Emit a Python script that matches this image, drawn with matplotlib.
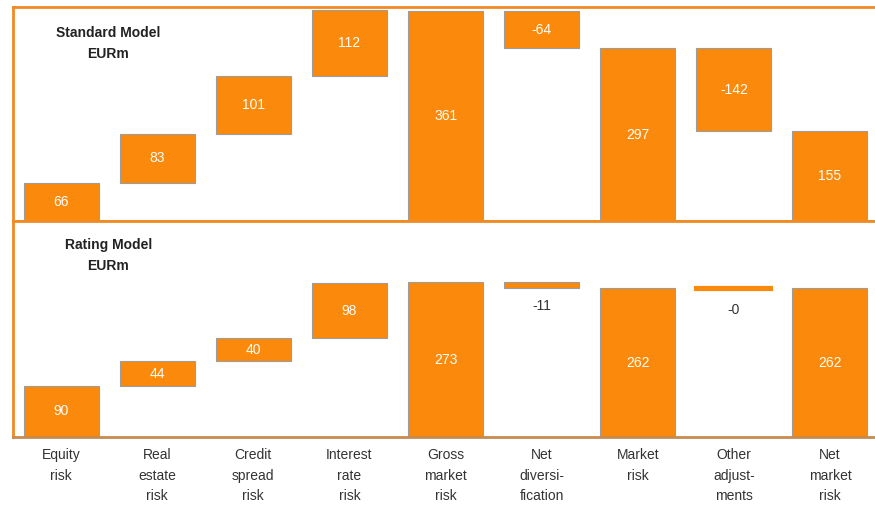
import numpy as np
import matplotlib.pyplot as plt

plt.rcParams['font.family'] = ['Liberation Sans', 'DejaVu Sans']

categories = ['Equity\nrisk', 'Real\nestate\nrisk', 'Credit\nspread\nrisk', 'Interest\nrate\nrisk',
              'Gross\nmarket\nrisk', 'Net\ndiversi-\nfication', 'Market\nrisk', 'Other\nadjust-\nments',
              'Net\nmarket\nrisk']
# True = total bar starting at zero, False = step from previous level
is_total = [False, False, False, False, True, False, True, False, True]

standard_vals = [66, 83, 101, 112, 361, -64, 297, -142, 155]
rating_vals = [90, 44, 40, 98, 273, -11, 262, -0.4, 262]

orange = '#FB8A0C'
frame = '#F08A24'


def waterfall(ax, vals, ylim, title, title_y):
    x = np.arange(len(vals))
    level = 0
    bottoms, heights = [], []
    for v, tot in zip(vals, is_total):
        if tot:
            bottoms.append(0)
            heights.append(v)
            level = v
        else:
            bottoms.append(level)
            heights.append(v)
            level = level + v
    px_per_unit = 214 / (ylim[1] - ylim[0])
    for xi, b, h in zip(x, bottoms, heights):
        tiny = abs(h) * px_per_unit < 2
        ax.bar(xi, h, bottom=b, width=0.78, color=orange,
               edgecolor=orange if tiny else '#9c9c9c',
               linewidth=3 if tiny else 0.8, zorder=2)
    ax.set_xlim(-0.5, 8.5)
    ax.set_ylim(*ylim)
    for xi, b, h in zip(x, bottoms, heights):
        lab = f'{h:.0f}'
        if abs(h) * px_per_unit < 15:
            low = min(b, b + h)
            off = 14 if abs(h) * px_per_unit < 2 else 10
            ax.text(xi, low - off / px_per_unit, lab, ha='center', va='top',
                    color='#333333', fontsize=10)
        else:
            mid = b + h / 2
            ax.text(xi, mid, lab, ha='center', va='center', color='white', fontsize=10)
    ax.text(0.11, title_y, title, transform=ax.transAxes, ha='center', va='center',
            fontsize=10, fontweight='bold', color='#222222', linespacing=1.6)
    ax.set_yticks([])
    ax.spines['right'].set_visible(False)
    for s in ['left', 'top', 'bottom']:
        ax.spines[s].set_color(frame)
        ax.spines[s].set_linewidth(2)


fig = plt.figure(figsize=(8.75, 5.12), dpi=100)
ax1 = fig.add_axes([13 / 875, (512 - 221) / 512, 865 / 875, 214 / 512])
ax2 = fig.add_axes([13 / 875, (512 - 437) / 512, 865 / 875, 216 / 512])

waterfall(ax1, standard_vals, (0, 368), 'Standard Model\nEURm', 0.83)
waterfall(ax2, rating_vals, (0, 381), 'Rating Model\nEURm', 0.84)

ax1.set_xticks([])
ax2.spines['bottom'].set_color('#C98A4E')
ax2.set_xticks(np.arange(len(categories)))
ax2.set_xticklabels(categories, fontsize=10, color='#333333', linespacing=1.6, va='top')
ax2.tick_params(axis='x', length=0, pad=8)

fig.savefig('out.png', dpi=100, facecolor='white')
